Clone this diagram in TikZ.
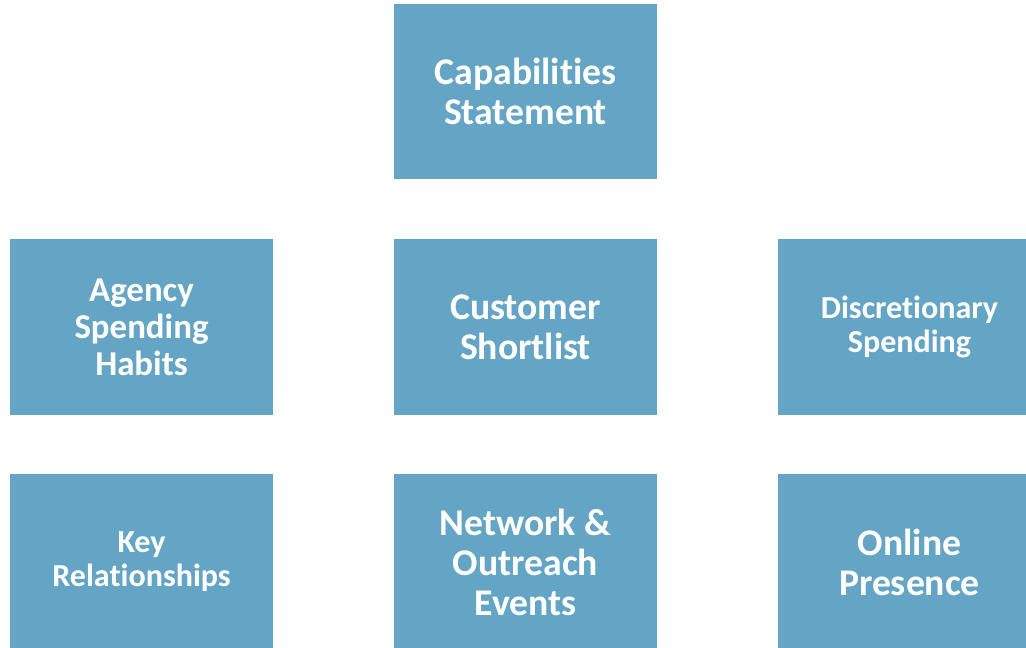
\documentclass[tikz,border=0pt]{standalone}
\usepackage{fontspec}
\setmainfont{Carlito}[Ligatures=CommonOff]
\usepackage{tikz}
\definecolor{boxblue}{RGB}{100,165,198}

\begin{document}
\begin{tikzpicture}[x=0.025cm,y=-0.025cm,
    box/.style={fill=boxblue,draw=none,minimum width=6.575cm,minimum height=4.375cm,
        inner sep=0pt,align=center,text=white,font=\bfseries\fontsize{26.8}{28.45}\selectfont},
    boxm/.style={box,font=\bfseries\fontsize{24.8}{26.3}\selectfont},
    boxs/.style={box,font=\bfseries\fontsize{22.8}{24.2}\selectfont}]
    % 画布
    \useasboundingbox (0,0) rectangle (1026,648);
    \clip (0,0) rectangle (1026,648);
    \fill[white] (0,0) rectangle (1026,648);

    % 第一行
    \node[box] (cap) at (525.5,91.5) {Capabilities\\Statement};
    % 第二行
    \node[boxm] (agency) at (141.5,327) {Agency\\Spending\\Habits};
    \node[box] (short) at (525.5,327) {Customer\\Shortlist};
    \node[boxs] (disc) at (909.5,327) {Discretionary\\Spending};
    % 第三行
    \node[boxs] (key) at (141.5,562) {Key\\Relationships};
    \node[box] (net) at (525.5,562) {Network \&\\Outreach\\Events};
    \node[box] (online) at (909.5,562) {Online\\Presence};
\end{tikzpicture}
\end{document}
